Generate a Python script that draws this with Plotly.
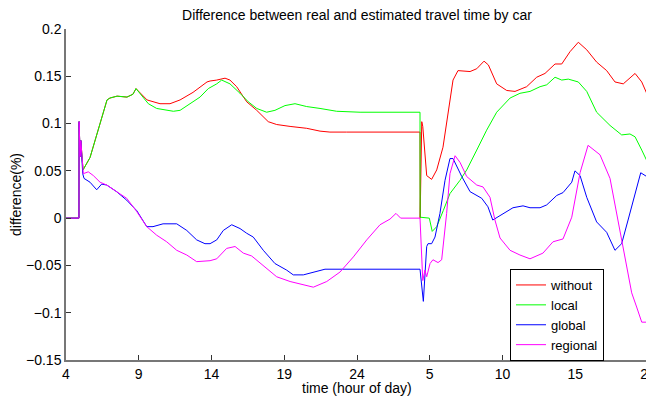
import plotly.graph_objects as go

# x: continuous hours (4..44); day-2 hours labelled 5,10,15,20
tick_vals = [4, 9, 14, 19, 24, 29, 34, 39, 44]
tick_text = ["4", "9", "14", "19", "24", "5", "10", "15", "20"]
y_tick_vals = [-0.15, -0.1, -0.05, 0, 0.05, 0.1, 0.15, 0.2]
y_tick_text = ["\u22120.15", "\u22120.1", "\u22120.05", "0", "0.05", "0.1", "0.15", "0.2"]

without_t = [4, 4.89, 4.9, 4.97, 5.02, 5.17, 5.65, 5.86, 6.34, 6.82, 7.02, 7.51, 8.19, 8.60, 8.81,
             9.57, 10.46, 11.15, 11.84, 12.73, 13.69, 13.90, 14.36, 14.93, 15.27, 15.73, 16.42,
             17.11, 17.90, 18.48, 19.40, 20.54, 21.46, 22.14, 23.29, 28.33, 28.34, 28.45, 28.52,
             28.79, 29.13, 29.48, 29.91, 30.25, 30.60, 30.94, 31.77, 32.23, 32.73, 33.03, 33.60,
             34.29, 34.86, 35.66, 36.35, 36.92, 37.61, 38.07, 38.64, 39.21, 39.79, 40.47, 41.16,
             41.73, 42.30, 43.11, 43.57, 43.91]
without_v = [0, 0, 0.102, 0.065, 0.082, 0.051, 0.064, 0.075, 0.100, 0.125, 0.127, 0.129, 0.128,
             0.131, 0.137, 0.125, 0.121, 0.121, 0.125, 0.133, 0.144, 0.145, 0.146, 0.148, 0.146,
             0.139, 0.123, 0.114, 0.102, 0.099, 0.097, 0.095, 0.092, 0.091, 0.091, 0.091, 0.0,
             0.102, 0.097, 0.045, 0.041, 0.051, 0.075, 0.111, 0.146, 0.156, 0.155, 0.158, 0.166,
             0.162, 0.142, 0.135, 0.134, 0.139, 0.149, 0.153, 0.163, 0.163, 0.176, 0.186, 0.178,
             0.165, 0.156, 0.144, 0.142, 0.153, 0.144, 0.132]

local_t = [4, 4.89, 4.9, 4.97, 5.02, 5.17, 5.65, 5.86, 6.34, 6.82, 7.02, 7.51, 8.19, 8.60, 8.81,
           9.66, 10.23, 11.15, 11.38, 11.84, 12.30, 13.21, 13.78, 14.36, 14.70, 15.27, 15.96,
           16.53, 17.11, 17.79, 18.36, 19.05, 19.74, 20.54, 21.46, 22.60, 24.21, 28.33, 28.34,
           28.97, 29.17, 29.48, 29.93, 30.39, 31.08, 31.54, 32.23, 32.91, 33.60, 34.52, 35.20,
           35.89, 36.58, 37.04, 37.61, 38.07, 38.52, 39.21, 39.79, 40.47, 41.39, 42.19, 42.76,
           43.11, 43.57, 43.91]
local_v = [0, 0, 0.102, 0.065, 0.082, 0.051, 0.064, 0.075, 0.100, 0.125, 0.127, 0.129, 0.128,
           0.131, 0.137, 0.121, 0.116, 0.113, 0.113, 0.114, 0.119, 0.128, 0.137, 0.142, 0.146,
           0.142, 0.132, 0.123, 0.116, 0.112, 0.114, 0.119, 0.121, 0.118, 0.116, 0.113, 0.112,
           0.112, 0.001, 0.0, -0.014, -0.009, 0.008, 0.026, 0.040, 0.051, 0.072, 0.093, 0.112,
           0.127, 0.132, 0.134, 0.139, 0.141, 0.149, 0.146, 0.147, 0.144, 0.134, 0.112, 0.098,
           0.088, 0.089, 0.086, 0.072, 0.061]

global_t = [4, 4.89, 4.9, 4.97, 5.02, 5.15, 5.24, 5.65, 6.11, 6.45, 6.80, 7.48, 8.17, 8.86, 9.55,
            9.98, 10.67, 11.61, 12.30, 12.98, 13.55, 13.90, 14.36, 14.81, 15.39, 15.96, 16.42,
            16.87, 17.56, 18.36, 19.17, 19.62, 20.31, 21.23, 21.80, 28.33, 28.56, 28.79, 28.88,
            29.13, 29.36, 29.70, 30.05, 30.39, 30.60, 31.20, 31.77, 32.57, 33.00, 33.33, 34.03,
            34.72, 35.41, 35.89, 36.58, 37.04, 37.73, 38.16, 38.76, 38.98, 39.33, 39.79, 40.47,
            41.16, 41.73, 42.19, 42.63, 43.11, 43.50, 43.91]
global_v = [0, 0, 0.102, 0.065, 0.082, 0.047, 0.042, 0.038, 0.030, 0.036, 0.035, 0.028, 0.019,
            0.008, -0.009, -0.009, -0.006, -0.006, -0.013, -0.023, -0.027, -0.027, -0.023,
            -0.013, -0.007, -0.011, -0.016, -0.020, -0.034, -0.048, -0.055, -0.060, -0.060,
            -0.056, -0.054, -0.054, -0.088, -0.030, -0.027, -0.027, -0.020, 0.005, 0.040, 0.063,
            0.063, 0.044, 0.028, 0.021, 0.012, -0.002, 0.005, 0.011, 0.013, 0.011, 0.011, 0.014,
            0.024, 0.027, 0.038, 0.050, 0.045, 0.022, -0.004, -0.015, -0.034, -0.027, -0.002,
            0.024, 0.048, 0.044]

regional_t = [4, 4.89, 4.9, 4.97, 5.02, 5.19, 5.53, 5.88, 6.34, 6.80, 7.48, 8.17, 8.86, 9.55,
              10.23, 10.92, 11.61, 12.30, 12.98, 13.90, 14.36, 15.04, 15.62, 16.19, 16.76, 17.56,
              18.48, 19.40, 20.31, 21.00, 21.92, 22.83, 23.75, 24.67, 25.58, 26.27, 26.68, 27.00,
              28.33, 28.52, 28.67, 28.79, 29.02, 29.22, 29.57, 29.82, 30.16, 30.39, 30.74, 31.08,
              31.54, 32.23, 32.66, 33.14, 33.48, 33.83, 34.52, 35.20, 35.89, 36.78, 37.47, 38.16,
              38.76, 39.33, 39.88, 40.70, 41.39, 41.85, 42.42, 42.88, 43.22, 43.57, 43.91]
regional_v = [0, 0, 0.102, 0.065, 0.082, 0.047, 0.049, 0.045, 0.038, 0.035, 0.028, 0.021, 0.007,
              -0.009, -0.018, -0.025, -0.034, -0.039, -0.046, -0.045, -0.043, -0.032, -0.030,
              -0.037, -0.040, -0.050, -0.062, -0.067, -0.070, -0.073, -0.067, -0.057, -0.041,
              -0.023, -0.007, -0.001, 0.005, 0.0, 0.0, -0.066, -0.055, -0.062, -0.048, -0.044,
              -0.047, -0.044, 0.005, 0.047, 0.066, 0.059, 0.044, 0.035, 0.033, 0.022, -0.002,
              -0.021, -0.034, -0.039, -0.043, -0.037, -0.025, -0.022, 0.001, 0.048, 0.077, 0.067,
              0.042, 0.005, -0.041, -0.079, -0.094, -0.110, -0.110]

series = [
    ("without", without_t, without_v, "#ff0000"),
    ("local", local_t, local_v, "#00ff00"),
    ("global", global_t, global_v, "#0000ff"),
    ("regional", regional_t, regional_v, "#ff00ff"),
]

FONT = "Liberation Sans, Arial, Helvetica, sans-serif"

# The page body has an 8px margin, so the figure is 16px smaller than the window
W, H = 646, 390
ML, MR, MT, MB = 58, 6, 21, 38
PW, PH = W - ML - MR, H - MT - MB

fig = go.Figure()
for name, t, v, c in series:
    fig.add_trace(go.Scatter(x=t, y=v, mode="lines", name=name,
                             line=dict(color=c, width=1)))

fig.update_layout(
    width=W, height=H,
    margin=dict(l=ML, r=MR, t=MT, b=MB),
    paper_bgcolor="white", plot_bgcolor="white",
    font=dict(family=FONT, size=14, color="black"),
    title=dict(text="Difference between real and estimated travel time by car",
               x=349 / W, xanchor="center", y=1 - 7 / H, yanchor="middle",
               yref="container", font=dict(size=14)),
    showlegend=True,
    legend=dict(x=(502 - ML) / PW, xanchor="left", y=(MT + PH - 261) / PH, yanchor="top",
                bordercolor="black", borderwidth=1, bgcolor="white",
                font=dict(size=13), tracegroupgap=0, itemwidth=30,
                entrywidth=60, entrywidthmode="pixels"),
    annotations=[dict(text="time (hour of day)", x=0.5, xref="paper", y=0, yref="paper",
                      xanchor="center", yanchor="middle", yshift=-28, showarrow=False,
                      font=dict(size=14))],
)
fig.update_xaxes(range=[4, 44], tickvals=tick_vals, ticktext=tick_text, automargin=False,
                 ticks="inside", ticklen=5, tickcolor="#333", showgrid=False, zeroline=False,
                 showline=True, linecolor="#777", linewidth=1.5, tickfont=dict(size=14),
                 ticklabeloverflow="allow")
fig.update_yaxes(range=[-0.15, 0.2], tickvals=y_tick_vals, ticktext=y_tick_text, automargin=False,
                 ticks="inside", ticklen=5, tickcolor="#333", showgrid=False, zeroline=False,
                 showline=True, linecolor="#777", linewidth=1.5, tickfont=dict(size=14),
                 title=dict(text="difference(%)", standoff=3, font=dict(size=14)))

fig.write_html("out.html")
